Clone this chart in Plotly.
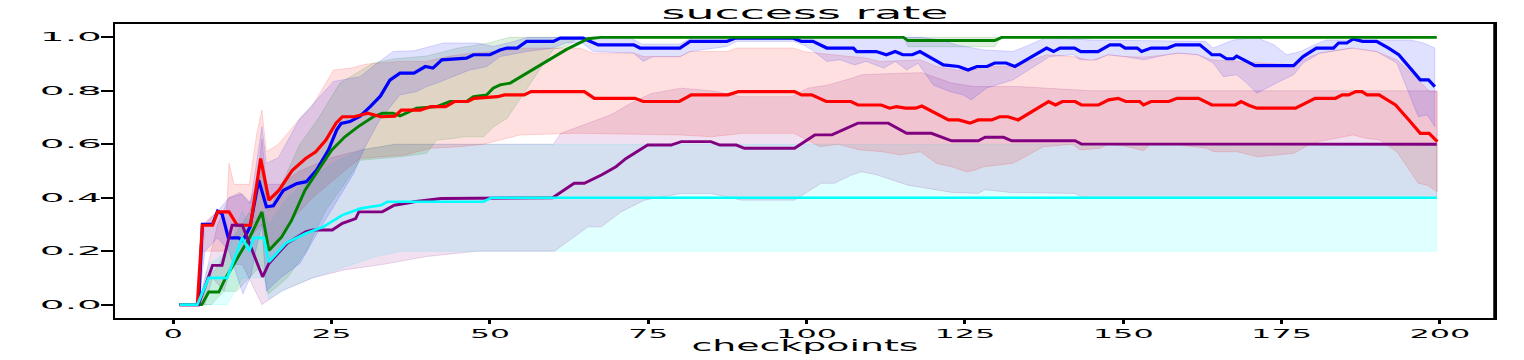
import plotly.graph_objects as go

# ---------------- data ----------------
x_ticks = [0, 25, 50, 75, 100, 125, 150, 175, 200]
y_ticks = [0.0, 0.2, 0.4, 0.6, 0.8, 1.0]
y_tick_text = ["0.0", "0.2", "0.4", "0.6", "0.8", "1.0"]

# blue
blue_x = [1, 4, 4.6, 6.2, 7, 7.7, 8.7, 10.3, 11, 12.1, 13.5, 14.7, 15.8, 17.4, 19.5, 21, 22.6, 24.5, 25.8, 26.5, 27.9, 29.5, 31.1, 32.7, 34.2, 35.8, 38, 39.8, 41, 42.4, 46.3, 47.4, 50, 51.6, 52.7, 54.3, 55.8, 60, 61.1, 64.7, 67.1, 72.7, 73.7, 80, 81.6, 87.4, 88.7, 97.9, 99.2, 101, 103.2, 107.4, 107.9, 111, 112.6, 114, 115.2, 116.7, 117.9, 121.6, 124, 125.5, 126.9, 128.5, 129.7, 131.5, 132.9, 137.9, 139, 140, 142.3, 143.3, 146, 147.9, 149.5, 150.3, 152.2, 152.9, 154.4, 157, 158.3, 162.1, 164, 165.3, 166.3, 167.4, 167.9, 169.5, 170.8, 176.9, 178.4, 180.5, 183.2, 184, 185.3, 186.3, 187.8, 190, 191.9, 193.5, 196.9, 198.2, 199.2]
blue_y = [0, 0, 0.3, 0.3, 0.35, 0.34, 0.25, 0.25, 0.24, 0.29, 0.466, 0.366, 0.37, 0.428, 0.453, 0.46, 0.503, 0.578, 0.653, 0.678, 0.685, 0.705, 0.741, 0.78, 0.84, 0.866, 0.866, 0.891, 0.885, 0.916, 0.922, 0.935, 0.935, 0.953, 0.96, 0.96, 0.985, 0.985, 0.997, 0.997, 0.972, 0.972, 0.96, 0.96, 0.985, 0.985, 0.997, 0.997, 0.985, 0.985, 0.96, 0.96, 0.947, 0.947, 0.935, 0.947, 0.935, 0.935, 0.947, 0.897, 0.891, 0.878, 0.891, 0.891, 0.904, 0.904, 0.891, 0.96, 0.947, 0.96, 0.96, 0.947, 0.947, 0.972, 0.972, 0.96, 0.96, 0.947, 0.96, 0.96, 0.972, 0.972, 0.935, 0.935, 0.92, 0.92, 0.93, 0.91, 0.894, 0.894, 0.928, 0.96, 0.96, 0.979, 0.979, 0.994, 0.985, 0.985, 0.96, 0.935, 0.841, 0.841, 0.816]
blue_up_x = [1, 4, 5, 7, 8.8, 10.9, 12.2, 14, 14.7, 16.6, 20, 25.3, 29.5, 32, 34.7, 38, 42.7, 48, 50.5, 53, 56, 72, 74, 80, 82, 118, 121, 124, 128, 132.6, 135, 137.9, 145, 163, 164.2, 165.8, 167.4, 171, 173.8, 175.8, 178, 180, 182, 195.4, 197.4, 199.2]
blue_up_y = [0, 0, 0.3, 0.35, 0.4, 0.415, 0.38, 0.666, 0.529, 0.55, 0.697, 0.835, 0.853, 0.9, 0.947, 0.95, 0.979, 0.979, 0.966, 0.98, 1.0, 1.0, 0.975, 0.975, 1.0, 1.0, 0.991, 0.97, 0.953, 0.947, 0.97, 1.0, 0.99, 0.985, 0.96, 0.975, 0.99, 1.0, 0.972, 0.935, 0.947, 0.97, 0.99, 0.99, 0.979, 0.96]
blue_lo_x = [1, 4, 5, 7, 8.8, 11, 12.3, 13, 14, 14.7, 16.9, 20, 22.7, 25.3, 28.5, 29.5, 30.5, 32.6, 35.8, 38.4, 40, 41.6, 44.3, 46.8, 49.5, 51.6, 55.8, 60, 62.1, 64.5, 66.3, 72.7, 74.2, 75.8, 80, 81.6, 87.4, 89, 97.9, 99.5, 101, 103.2, 105.3, 107.6, 109.4, 112.2, 114, 115.8, 117.6, 120, 122.6, 124.7, 126, 128.4, 132.6, 136.8, 138.4, 142.1, 143.2, 145.8, 147.6, 150.2, 153.2, 156.9, 158.7, 161.8, 164.2, 165.8, 167.9, 169.5, 171.1, 174.7, 176.9, 178.4, 181, 186.3, 190, 193.2, 196.6, 198, 199.2]
blue_lo_y = [0, 0, 0.2, 0.25, 0.2, 0.04, 0.11, 0.2, 0.3, 0.05, 0.1, 0.154, 0.266, 0.366, 0.491, 0.55, 0.6, 0.691, 0.785, 0.797, 0.816, 0.829, 0.853, 0.878, 0.891, 0.928, 0.947, 0.96, 0.98, 0.98, 0.947, 0.941, 0.91, 0.928, 0.928, 0.947, 0.966, 0.985, 0.985, 0.972, 0.95, 0.91, 0.916, 0.897, 0.91, 0.885, 0.91, 0.878, 0.903, 0.822, 0.797, 0.785, 0.766, 0.81, 0.841, 0.904, 0.928, 0.935, 0.916, 0.916, 0.935, 0.928, 0.916, 0.935, 0.941, 0.935, 0.904, 0.853, 0.86, 0.829, 0.791, 0.835, 0.86, 0.904, 0.941, 0.96, 0.947, 0.904, 0.703, 0.71, 0.666]

# red
red_x = [1, 3.8, 4.6, 6.2, 7, 8.8, 10.1, 12.2, 13.8, 15.1, 16.7, 18.8, 20.9, 22.5, 24.1, 25.7, 26.7, 28.6, 30.7, 32.8, 35, 36, 39, 40.7, 43, 44.4, 46.5, 47.5, 51.2, 52.3, 55.4, 56.5, 64.9, 66.5, 72.9, 74.2, 79.9, 81.8, 87.6, 89.2, 98.1, 99.2, 100.8, 103.1, 107, 108.1, 111.8, 113.1, 114.2, 115.6, 117.2, 118.2, 122.4, 124, 125.8, 127.1, 129.2, 130.5, 131.8, 133.4, 138.2, 139.3, 140.4, 142.4, 143.4, 146.1, 147.7, 149.2, 150.4, 152.6, 153.2, 154.4, 157.2, 158.5, 161.9, 164, 167.7, 168.6, 169.9, 171.1, 177.2, 180.3, 183.5, 184.6, 185.6, 186.7, 187.7, 188.5, 190.4, 193, 195.1, 196.9, 198.3, 199.6]
red_y = [0, 0, 0.297, 0.297, 0.347, 0.347, 0.297, 0.297, 0.547, 0.391, 0.428, 0.503, 0.547, 0.572, 0.616, 0.679, 0.703, 0.703, 0.716, 0.703, 0.705, 0.728, 0.728, 0.741, 0.741, 0.76, 0.76, 0.772, 0.778, 0.785, 0.785, 0.797, 0.797, 0.772, 0.772, 0.76, 0.76, 0.785, 0.785, 0.797, 0.797, 0.785, 0.785, 0.76, 0.76, 0.747, 0.747, 0.735, 0.741, 0.735, 0.735, 0.743, 0.691, 0.691, 0.679, 0.691, 0.691, 0.703, 0.703, 0.691, 0.76, 0.747, 0.76, 0.76, 0.747, 0.747, 0.766, 0.772, 0.76, 0.76, 0.747, 0.76, 0.76, 0.772, 0.772, 0.747, 0.747, 0.76, 0.745, 0.735, 0.735, 0.772, 0.772, 0.785, 0.785, 0.797, 0.797, 0.785, 0.785, 0.747, 0.691, 0.641, 0.641, 0.61]
red_up_x = [1, 3.8, 4.6, 7, 8.4, 8.8, 9.6, 12, 13.2, 14, 14.7, 16.6, 19.8, 21.9, 25.3, 28, 30.5, 35.8, 40, 43.2, 46.9, 50.5, 55.8, 64.2, 66.3, 72.7, 74.3, 80, 81.6, 87.4, 89, 97.9, 99.5, 101.6, 106.9, 109, 111.6, 117.9, 120.5, 123.6, 126.3, 128.4, 132.6, 137.9, 142.1, 145, 147.6, 150.2, 153.2, 156.9, 158.7, 161.8, 163.9, 167.9, 176.9, 179.5, 181, 185.8, 190, 193.2, 196.6, 198.4, 199.6]
red_up_y = [0, 0, 0.3, 0.35, 0.35, 0.529, 0.45, 0.45, 0.641, 0.728, 0.572, 0.6, 0.691, 0.741, 0.878, 0.885, 0.9, 0.91, 0.91, 0.928, 0.941, 0.947, 0.96, 0.96, 0.941, 0.941, 0.928, 0.928, 0.947, 0.947, 0.96, 0.96, 0.947, 0.941, 0.928, 0.925, 0.91, 0.916, 0.891, 0.878, 0.878, 0.891, 0.891, 0.935, 0.928, 0.913, 0.935, 0.928, 0.926, 0.935, 0.941, 0.935, 0.916, 0.91, 0.897, 0.928, 0.941, 0.96, 0.947, 0.916, 0.841, 0.797, 0.797]
red_lo_x = [1, 4, 4.6, 8, 8.8, 12, 14, 15, 18, 22, 27, 29.5, 36.6, 40.7, 45.3, 49, 54.8, 64, 67.4, 80, 85, 90, 98, 102.1, 105, 108.4, 112, 114.8, 118, 120.5, 122.9, 125.3, 126.5, 128, 132.6, 137.4, 142, 143.2, 146.3, 147.6, 150.2, 153.2, 154.3, 158, 163.2, 164.3, 168, 170, 171.2, 176.9, 179.5, 181, 183.2, 186.3, 188.4, 190.5, 193.2, 196.6, 198, 199.6]
red_lo_y = [0, 0, 0.2, 0.2, 0.25, 0.25, 0.3, 0.2, 0.3, 0.4, 0.5, 0.547, 0.56, 0.585, 0.591, 0.6, 0.635, 0.641, 0.641, 0.635, 0.628, 0.641, 0.641, 0.591, 0.6, 0.579, 0.572, 0.56, 0.572, 0.529, 0.516, 0.497, 0.503, 0.516, 0.529, 0.591, 0.6, 0.579, 0.585, 0.6, 0.594, 0.576, 0.6, 0.6, 0.585, 0.572, 0.572, 0.56, 0.553, 0.566, 0.6, 0.61, 0.622, 0.635, 0.622, 0.616, 0.572, 0.454, 0.447, 0.422]

# green
green_x = [1, 4.5, 5.6, 7.2, 8.2, 10.8, 12.1, 14, 15.1, 17.1, 18.7, 20.8, 22.9, 25, 27.1, 29.2, 31.6, 33, 34.7, 35.8, 37.1, 38.4, 41.6, 43.7, 46.3, 47.4, 49.5, 50.5, 51.6, 53.2, 62.1, 65.5, 67.5, 115.3, 116, 129.7, 130.8, 199.5]
green_y = [0, 0, 0.047, 0.047, 0.097, 0.203, 0.253, 0.347, 0.203, 0.253, 0.316, 0.428, 0.503, 0.578, 0.628, 0.666, 0.703, 0.716, 0.716, 0.706, 0.72, 0.735, 0.741, 0.76, 0.76, 0.778, 0.785, 0.81, 0.822, 0.829, 0.955, 0.995, 1.0, 1.0, 0.988, 0.988, 1.0, 1.0]
green_up_x = [1, 4.5, 5.6, 7.2, 8.2, 10.8, 12.1, 14, 15.1, 17.1, 20, 23, 26.3, 31.6, 35, 40, 45, 50, 53, 199.5]
green_up_y = [0, 0, 0.1, 0.15, 0.2, 0.3, 0.35, 0.5, 0.35, 0.45, 0.6, 0.7, 0.829, 0.904, 0.92, 0.93, 0.96, 0.98, 1.0, 1.0]
green_lo_x = [1, 6, 8, 10, 12, 14, 15, 18, 21, 24, 27, 29.5, 35.8, 40, 41.6, 43.7, 45.8, 49, 50.6, 52.7, 60, 62.1, 64, 115.3, 116, 129.7, 130.8, 199.5]
green_lo_y = [0, 0, 0.05, 0.05, 0.1, 0.15, 0.04, 0.1, 0.2, 0.35, 0.45, 0.54, 0.553, 0.566, 0.616, 0.62, 0.628, 0.628, 0.666, 0.697, 0.955, 0.966, 1.0, 1.0, 0.965, 0.965, 1.0, 1.0]

# purple
purple_x = [1, 4, 5.5, 6.2, 7.7, 9.3, 10.9, 14.1, 15.1, 18, 20.9, 22, 25.1, 26.7, 28.8, 29.3, 33, 34.9, 37, 38, 42.3, 59.9, 63.3, 64.9, 67.6, 69.9, 71.5, 74.9, 78.6, 80.2, 84.9, 86.3, 88.9, 90.2, 98.1, 101.3, 104, 106.3, 108.1, 112.9, 115.8, 119.7, 121.3, 122.9, 127.1, 128.2, 131.1, 132.4, 142.4, 143.4, 199.5]
purple_y = [0, 0, 0.1, 0.147, 0.147, 0.297, 0.297, 0.104, 0.154, 0.23, 0.272, 0.279, 0.279, 0.304, 0.322, 0.347, 0.347, 0.372, 0.38, 0.385, 0.397, 0.4, 0.454, 0.454, 0.485, 0.516, 0.547, 0.597, 0.597, 0.61, 0.61, 0.597, 0.597, 0.585, 0.585, 0.635, 0.635, 0.66, 0.679, 0.679, 0.641, 0.641, 0.628, 0.613, 0.613, 0.626, 0.626, 0.613, 0.613, 0.601, 0.6]
purple_up_x = [1, 4, 5.5, 7, 8.8, 10.5, 12, 13.2, 14, 14.7, 17, 20, 25, 30, 35, 60, 61.2, 65.5, 69.1, 72.3, 75.5, 80.2, 85, 89.7, 97.6, 100.2, 103.4, 107.1, 108.7, 115, 118.2, 122.9, 126.5, 133.4, 142.4, 145, 199.5]
purple_up_y = [0, 0, 0.15, 0.3, 0.4, 0.42, 0.38, 0.45, 0.62, 0.45, 0.45, 0.5, 0.55, 0.58, 0.6, 0.6, 0.641, 0.679, 0.71, 0.754, 0.79, 0.81, 0.8, 0.778, 0.778, 0.81, 0.822, 0.847, 0.86, 0.866, 0.868, 0.829, 0.816, 0.816, 0.804, 0.8, 0.8]
purple_lo_x = [1, 5, 6.2, 8, 9.3, 10.9, 14, 17, 22, 27, 33, 40, 48, 60.2, 65.5, 67.6, 70.7, 74.4, 80.2, 84.9, 89.7, 98.1, 102.3, 104.4, 107.1, 108.7, 111, 116, 122.9, 127.1, 128.2, 132, 142.4, 143.4, 145, 199.5]
purple_lo_y = [0, 0, 0.1, 0.05, 0.15, 0.15, 0.0, 0.05, 0.1, 0.13, 0.15, 0.18, 0.2, 0.2, 0.291, 0.291, 0.347, 0.391, 0.416, 0.416, 0.391, 0.391, 0.454, 0.454, 0.485, 0.497, 0.486, 0.447, 0.42, 0.416, 0.43, 0.42, 0.416, 0.403, 0.4, 0.4]

# cyan
cyan_x = [1, 3.8, 5.6, 8.5, 10.9, 12, 12.7, 14.3, 15.1, 17.8, 20.9, 23.6, 26.7, 29.6, 32.8, 33.8, 49, 50.2, 199.5]
cyan_y = [0, 0, 0.1, 0.1, 0.25, 0.2, 0.25, 0.25, 0.16, 0.23, 0.266, 0.29, 0.335, 0.36, 0.372, 0.385, 0.385, 0.4, 0.4]
cyan_up_x = [1, 3.8, 5.6, 8.5, 10.9, 12, 14.3, 15.1, 18, 22, 26, 30, 35, 199.5]
cyan_up_y = [0, 0, 0.15, 0.2, 0.35, 0.3, 0.35, 0.3, 0.4, 0.48, 0.54, 0.58, 0.6, 0.6]
cyan_lo_x = [1, 8.5, 10.9, 12, 14.3, 15.1, 18, 22, 27, 32, 36, 199.5]
cyan_lo_y = [0, 0, 0.1, 0.1, 0.1, 0.02, 0.06, 0.1, 0.14, 0.18, 0.2, 0.2]

# ---------------- figure ----------------
series = [
    ("cyan", "0,255,255", cyan_x, cyan_y, cyan_up_x, cyan_up_y, cyan_lo_x, cyan_lo_y, 2.7),
    ("purple", "128,0,128", purple_x, purple_y, purple_up_x, purple_up_y, purple_lo_x, purple_lo_y, 2.9),
    ("red", "255,0,0", red_x, red_y, red_up_x, red_up_y, red_lo_x, red_lo_y, 3.2),
    ("green", "0,128,0", green_x, green_y, green_up_x, green_up_y, green_lo_x, green_lo_y, 2.9),
    ("blue", "0,0,255", blue_x, blue_y, blue_up_x, blue_up_y, blue_lo_x, blue_lo_y, 3.2),
]

fig = go.Figure()

for name, rgb, mx, my, ux, uy, lx, ly, w in series:
    fig.add_trace(go.Scatter(
        x=list(ux) + list(lx)[::-1],
        y=list(uy) + list(ly)[::-1],
        fill="toself",
        fillcolor=f"rgba({rgb},0.12)",
        line=dict(color=f"rgba({rgb},0.18)", width=0.8),
        mode="lines", hoverinfo="skip", showlegend=False,
    ))

line_order = ["blue", "green", "red", "purple", "cyan"]
for target in line_order:
    for name, rgb, mx, my, ux, uy, lx, ly, w in series:
        if name == target:
            fig.add_trace(go.Scatter(
                x=mx, y=my, mode="lines",
                line=dict(color=f"rgb({rgb})", width=w),
                name=name, showlegend=False,
            ))

fig.update_layout(
    width=1524, height=360,
    margin=dict(l=115, r=29, t=24, b=42),
    paper_bgcolor="white", plot_bgcolor="white",
    showlegend=False,
    font=dict(family="DejaVu Sans", color="black"),
    title=dict(text="success rate", x=0.5, xref="paper", xanchor="center",
               y=1 - 13 / 360, yref="container", yanchor="middle",
               font=dict(family="DejaVu Sans", size=17, color="black")),
)
fig.update_xaxes(
    range=[-9.2, 208.7], tickvals=x_ticks, ticktext=[str(v) for v in x_ticks],
    ticks="outside", ticklen=4, tickwidth=2.5, tickcolor="black",
    showline=True, linecolor="black", linewidth=1.6, mirror=True,
    showgrid=False, zeroline=False,
    tickfont=dict(family="DejaVu Sans", size=11.5, color="black"),
)
fig.update_yaxes(
    range=[-0.05, 1.05], tickvals=y_ticks, ticktext=y_tick_text,
    ticks="outside", ticklen=12, tickwidth=1.5, tickcolor="black",
    showline=True, linecolor="black", linewidth=1.6, mirror=True,
    showgrid=False, zeroline=False, ticklabelstandoff=-3,
    tickfont=dict(family="DejaVu Sans", size=11.5, color="black"),
)
fig.add_shape(type="line", xref="paper", yref="paper", x0=1, x1=1, y0=0, y1=1,
              line=dict(color="black", width=3.5))
fig.add_annotation(text="checkpoints", xref="paper", yref="paper",
                   x=0.5, y=-(346 - 318) / 294, xanchor="center", yanchor="middle",
                   showarrow=False, font=dict(family="DejaVu Sans", size=15, color="black"))

stretch_js = """
(function(){
  document.body.style.margin = '0';
  document.body.style.padding = '0';
  var gd = document.getElementById('{plot_id}');
  function fit(sel, widthFn){
    gd.querySelectorAll(sel).forEach(function(t){
      var target = widthFn(t);
      if (target > 0) {
        t.setAttribute('textLength', target.toFixed(1));
        t.setAttribute('lengthAdjust', 'spacingAndGlyphs');
      }
    });
  }
  fit('.xtick text', function(t){ return 21 * t.textContent.length - 2; });
  fit('.ytick text', function(t){ return 62; });
  fit('text.gtitle', function(t){ return 287; });
  fit('text.annotation-text', function(t){ return 227; });
})();
"""

fig.write_html("out.html", post_script=stretch_js, config={"displayModeBar": False})
